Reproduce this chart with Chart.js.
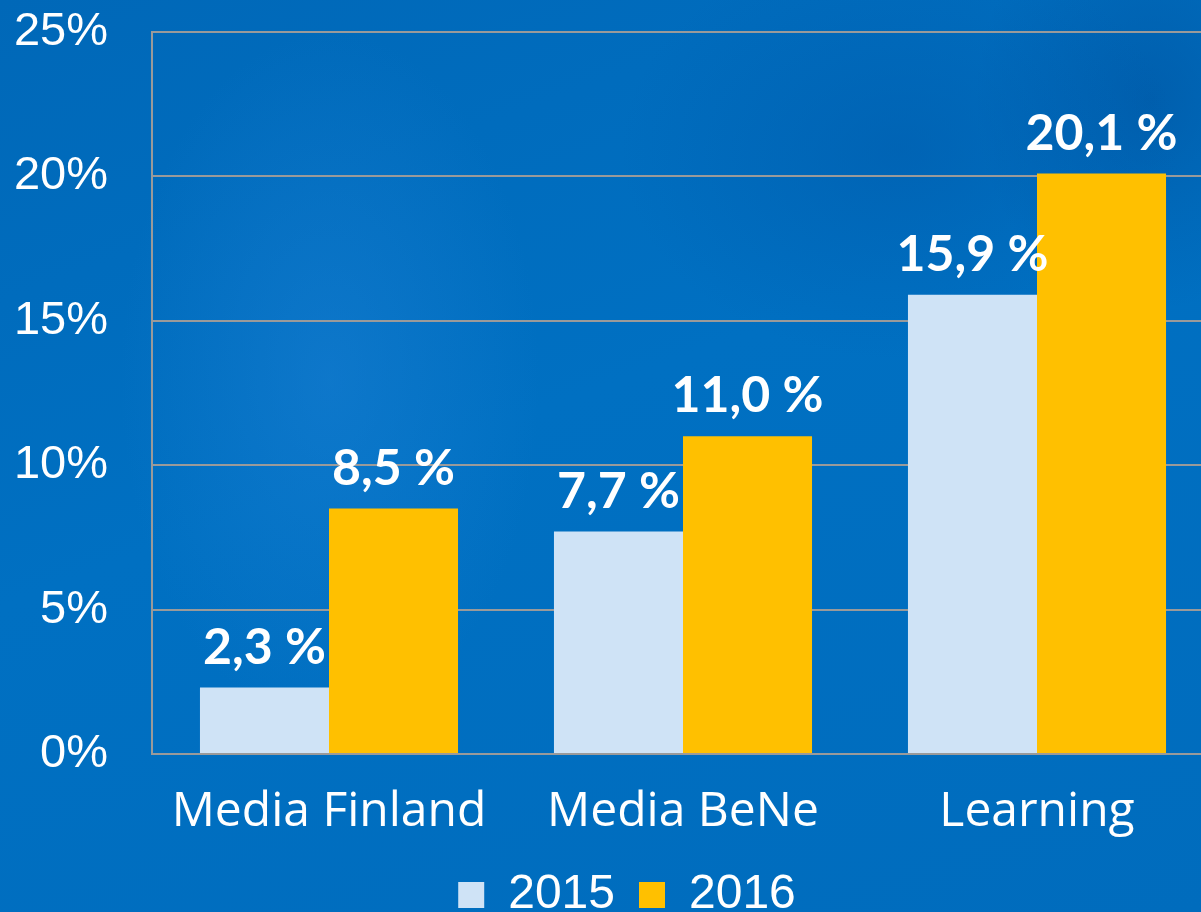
<!DOCTYPE html>
<html>
<head>
<style>
  html, body { margin: 0; padding: 0; overflow: hidden; width: 1201px; height: 912px; }
  body {
    background:
      radial-gradient(ellipse 300px 500px at 330px 380px, rgba(30,130,215,0.45), rgba(30,130,215,0) 70%),
      radial-gradient(ellipse 400px 300px at 900px 150px, rgba(0,80,160,0.35), rgba(0,80,160,0) 70%),
      radial-gradient(ellipse 250px 300px at 1150px 100px, rgba(0,75,150,0.45), rgba(0,75,150,0) 70%),
      linear-gradient(160deg, #0068b8 0%, #0070c2 45%, #006cbd 100%);
  }
  canvas { display: block; }
</style>
</head>
<body>

<canvas id="myChart" width="1254" height="912"></canvas>

<script src="https://cdn.jsdelivr.net/npm/chart.js"></script>
<script>
const categories = ['Media Finland', 'Media BeNe', 'Learning'];
const seriesNames = ['2015', '2016'];
const values2015 = [2.3, 7.7, 15.9];
const values2016 = [8.5, 11.0, 20.1];
const yTicks = [0, 5, 10, 15, 20, 25];

// bold white value labels above each bar
const valueLabels = {
    id: 'valueLabels',
    afterDatasetsDraw(chart) {
        const c = chart.ctx;
        c.save();
        c.fillStyle = '#ffffff';
        c.font = 'bold 50px Lato, "Open Sans", sans-serif';
        c.textAlign = 'center';
        c.textBaseline = 'alphabetic';
        chart.data.datasets.forEach((ds, i) => {
            chart.getDatasetMeta(i).data.forEach((bar, j) => {
                const txt = ds.data[j].toFixed(1).replace('.', ',') + ' %';
                c.fillText(txt, bar.x, bar.y - 24);
            });
        });
        c.restore();
    }
};

// legend sits a little right of the canvas centre in the original
const legendShift = {
    id: 'legendShift',
    afterLayout(chart) {
        chart.legend.left += 20;
        chart.legend.right += 20;
    }
};

const ctx = document.getElementById('myChart').getContext('2d');
const myChart = new Chart(ctx, {
    type: 'bar',
    data: {
        labels: categories,
        datasets: [
            {
                label: seriesNames[0],
                data: values2015,
                backgroundColor: '#cfe3f6',
                borderWidth: 0
            },
            {
                label: seriesNames[1],
                data: values2016,
                backgroundColor: '#ffc000',
                borderWidth: 0
            }
        ]
    },
    options: {
        responsive: false,
        animation: false,
        devicePixelRatio: 1,
        layout: { padding: { top: 32, right: 40, left: 0, bottom: -17 } },
        datasets: {
            bar: { barPercentage: 1, categoryPercentage: 0.729 }
        },
        plugins: {
            tooltip: { enabled: false },
            legend: {
                position: 'bottom',
                labels: {
                    color: '#ffffff',
                    font: { family: '"Liberation Sans", Arial, sans-serif', size: 48 },
                    boxWidth: 26,
                    boxHeight: 26,
                    padding: 24
                }
            }
        },
        scales: {
            x: {
                afterFit: axis => { axis.height = 93; },
                grid: { display: false, drawTicks: false },
                border: { display: false },
                ticks: {
                    color: '#ffffff',
                    font: { family: '"Open Sans", "Noto Sans", sans-serif', size: 48 },
                    padding: 30
                }
            },
            y: {
                min: 0,
                max: 25,
                afterBuildTicks: axis => { axis.ticks = yTicks.map(v => ({ value: v })); },
                afterFit: axis => {
                    axis.width = 152;
                    axis.paddingTop = 0;
                    axis.paddingBottom = 0;
                },
                grid: { color: '#9a9a9a', lineWidth: 2, drawTicks: false },
                border: { color: '#9a9a9a', width: 2 },
                ticks: {
                    color: '#ffffff',
                    font: { family: '"Liberation Sans", Arial, sans-serif', size: 47 },
                    padding: 44,
                    callback: v => v + '%'
                }
            }
        }
    },
    plugins: [valueLabels, legendShift]
});
</script>

</body>
</html>
